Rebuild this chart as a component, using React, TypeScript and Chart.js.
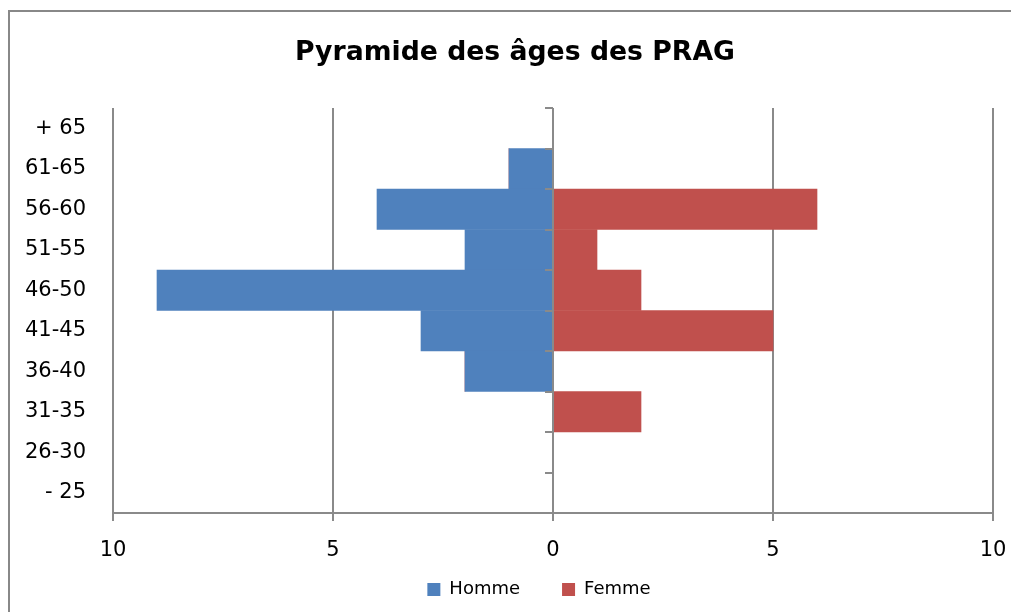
import React, { useEffect, useRef } from "react";
import { Chart, registerables } from "chart.js";

Chart.register(...registerables);

const categories = ["+ 65", "61-65", "56-60", "51-55", "46-50", "41-45", "36-40", "31-35", "26-30", "- 25"];
const hommeValues = [0, 1, 4, 2, 9, 3, 2, 0, 0, 0];
const femmeValues = [0, 0, 6, 1, 2, 5, 0, 2, 0, 0];
const seriesNames = ["Homme", "Femme"];
const xMin = -10;
const xMax = 10;
const xStep = 5;
const chartTitle = "Pyramide des âges des PRAG";

const BLUE = "#4F81BD";
const RED = "#C0504D";
const GRID = "#8a8a8a";
const FONT = "'DejaVu Sans', Verdana, sans-serif";

const centerAxisPlugin = {
  id: "centerAxis",
  afterDatasetsDraw(chart: any) {
    const { ctx, chartArea, scales } = chart;
    const x0 = scales.x.getPixelForValue(0);
    const ys = scales.y;
    ctx.save();
    ctx.strokeStyle = GRID;
    ctx.lineWidth = 2;
    ctx.beginPath();
    ctx.moveTo(x0, chartArea.top);
    ctx.lineTo(x0, chartArea.bottom);
    for (let i = 0; i <= categories.length; i++) {
      const py = Math.round(ys.getPixelForValue(i - 0.5));
      ctx.moveTo(x0 - 8, py);
      ctx.lineTo(x0, py);
    }
    ctx.stroke();
    ctx.restore();
  },
};

const boxShiftPlugin = {
  id: "boxShift",
  afterLayout(chart: any) {
    const lg = chart.legend;
    if (lg) {
      lg.left += 37.5;
      lg.right += 37.5;
      lg.top -= 24.5;
    }
    const tt = chart.titleBlock;
    if (tt) {
      tt.left += 13.5;
      tt.right += 13.5;
    }
  },
};

export default function App() {
  const ref = useRef<HTMLCanvasElement | null>(null);

  useEffect(() => {
    if (!ref.current) return;
    const chart = new Chart(ref.current, {
      type: "bar",
      data: {
        labels: categories,
        datasets: [
          {
            label: seriesNames[0],
            data: hommeValues.map((v) => -v),
            backgroundColor: BLUE,
            borderWidth: 0,
            barPercentage: 1,
            categoryPercentage: 1,
          },
          {
            label: seriesNames[1],
            data: femmeValues,
            backgroundColor: RED,
            borderWidth: 0,
            barPercentage: 1,
            categoryPercentage: 1,
          },
        ],
      },
      options: {
        indexAxis: "y",
        animation: false,
        responsive: false,
        maintainAspectRatio: false,
        devicePixelRatio: 1,
        color: "#000",
        layout: { padding: { left: 10, right: 18, top: 0, bottom: 0 } },
        scales: {
          x: {
            type: "linear",
            stacked: true,
            min: xMin,
            max: xMax,
            ticks: {
              stepSize: xStep,
              padding: 17,
              color: "#000",
              font: { family: FONT, size: 21 },
              callback: (v: any) => String(Math.abs(Number(v))),
            },
            grid: { color: GRID, lineWidth: 2, tickLength: 8, drawTicks: true },
            border: { display: true, color: GRID, width: 2 },
            afterFit: (s: any) => {
              s.height = 50;
              s.paddingLeft = 0;
              s.paddingRight = 0;
            },
          },
          y: {
            type: "category",
            stacked: true,
            offset: true,
            ticks: {
              padding: 27,
              color: "#000",
              font: { family: FONT, size: 21 },
              autoSkip: false,
            },
            grid: { display: false, drawTicks: false },
            border: { display: false },
            afterFit: (s: any) => {
              s.width = 103;
            },
          },
        },
        plugins: {
          title: {
            display: true,
            text: chartTitle,
            color: "#000",
            font: { family: FONT, size: 26.7, weight: "bold" },
            padding: { top: 37, bottom: 39 },
          },
          legend: {
            display: true,
            position: "bottom",
            maxHeight: 49,
            labels: {
              boxWidth: 13,
              boxHeight: 13,
              padding: 42,
              color: "#000",
              font: { family: FONT, size: 18 },
            },
          },
          tooltip: { enabled: false },
        },
      },
      plugins: [centerAxisPlugin, boxShiftPlugin],
    });
    return () => chart.destroy();
  }, []);

  return (
    <div
      style={{
        position: "fixed",
        left: 0,
        top: 0,
        width: 1011,
        height: 612,
        overflow: "hidden",
        background: "#fff",
      }}
    >
      <div
        style={{
          position: "absolute",
          left: 8,
          top: 10,
          width: 1040,
          height: 640,
          border: "2px solid #888",
          boxSizing: "border-box",
        }}
      />
      <canvas
        ref={ref}
        width={1011}
        height={612}
        style={{ position: "absolute", left: 0, top: 0, width: 1011, height: 612, display: "block" }}
      />
    </div>
  );
}
